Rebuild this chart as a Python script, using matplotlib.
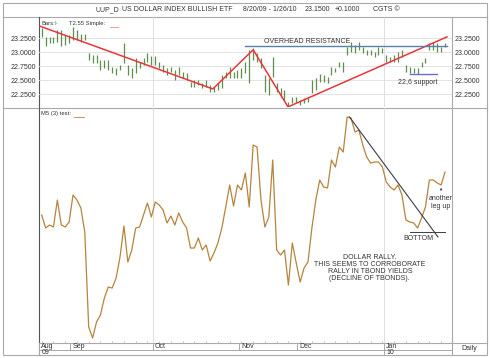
import matplotlib.pyplot as plt
from matplotlib.patches import Rectangle

plt.rcParams["font.family"] = ["Liberation Sans", "DejaVu Sans"]
plt.rcParams["font.size"] = 5

W, H = 490, 358

# ------------------------------------------------------------ data
# daily high / low of UUP, 8/20/09 - 1/26/10 (one entry per bar)
bar_hi = [23.42, 23.27, 23.27, 23.27, 23.39, 23.39, 23.30, 23.30, 23.45, 23.39,
          23.33, 23.33, 22.98, 22.95, 22.95, 22.86, 22.86, 22.86, 22.74, 22.71,
          22.77, 23.16, 22.77, 22.71, 22.89, 22.83, 22.89, 22.98, 22.92, 22.92,
          22.83, 22.77, 22.71, 22.74, 22.68, 22.74, 22.65, 22.62, 22.47, 22.50,
          22.50, 22.44, 22.50, 22.41, 22.38, 22.44, 22.59, 22.65, 22.74, 22.65,
          22.68, 22.71, 22.82, 23.04, 23.07, 22.98, 22.89, 22.59, 22.54, 22.91,
          22.45, 22.36, 22.32, 22.11, 22.20, 22.20, 22.14, 22.18, 22.20, 22.50,
          22.54, 22.61, 22.59, 22.55, 22.73, 22.71, 22.82, 22.82, 23.09, 23.18,
          23.12, 23.18, 23.09, 23.04, 23.04, 23.00, 23.09, 23.07, 22.95, 22.91,
          22.95, 23.00, 23.04, 22.77, 22.73, 22.71, 22.71, 22.82, 22.89, 23.16,
          23.18, 23.16, 23.09, 23.16]
bar_lo = [23.27, 23.11, 23.16, 23.16, 23.18, 23.11, 23.13, 23.16, 23.21, 23.21,
          23.18, 23.21, 22.86, 22.80, 22.80, 22.68, 22.71, 22.68, 22.62, 22.59,
          22.68, 22.80, 22.59, 22.53, 22.63, 22.71, 22.77, 22.83, 22.77, 22.77,
          22.71, 22.65, 22.59, 22.65, 22.50, 22.59, 22.53, 22.50, 22.38, 22.38,
          22.41, 22.35, 22.38, 22.29, 22.29, 22.32, 22.35, 22.53, 22.53, 22.53,
          22.53, 22.53, 22.62, 22.45, 22.85, 22.82, 22.71, 22.29, 22.23, 22.55,
          22.29, 22.20, 22.14, 22.02, 22.09, 22.11, 22.05, 22.09, 22.11, 22.27,
          22.32, 22.46, 22.46, 22.45, 22.59, 22.64, 22.73, 22.64, 22.95, 23.00,
          22.98, 23.04, 22.98, 22.95, 22.95, 22.91, 22.95, 22.98, 22.82, 22.82,
          22.82, 22.82, 22.91, 22.64, 22.62, 22.62, 22.61, 22.73, 22.80, 23.04,
          23.04, 23.00, 23.00, 23.09]

# M5 (3) test indicator (arbitrary units)
osc = [128, 115, 118, 116, 143, 118, 116, 121, 148, 143,
       135, 111, 16, 5, 21, 28, 45, 56, 55, 65,
       86, 117, 81, 93, 115, 116, 128, 140, 126, 141,
       138, 133, 120, 127, 118, 130, 121, 115, 95, 95,
       105, 93, 98, 82, 90, 100, 115, 136, 158, 137,
       158, 153, 170, 136, 198, 196, 143, 116, 126, 183,
       93, 88, 93, 58, 100, 80, 61, 75, 81, 115,
       143, 163, 156, 155, 183, 176, 196, 191, 226, 225,
       211, 213, 198, 186, 180, 181, 181, 176, 161, 156,
       153, 158, 148, 123, 121, 120, 115, 125, 136, 163,
       163, 160, 158, 171]

# hand-drawn lines
trend_x = [-0.4, 43.7, 54.0, 62.9, 103.5]
trend_y = [23.46, 22.34, 23.04, 22.02, 23.27]
resist_x = [52.0, 103.5]
resist_y = [23.107, 23.107]
support_x = [94.1, 100.9]
support_y = [22.6, 22.6]
down_x = [78.6, 101.2]
down_v = [226, 106]
bottom_x = [94.0, 103.0]
bottom_v = [111, 111]

months = ["Aug", "Sep", "Oct", "Nov", "Dec", "Jan"]
month_pos = [-0.69, 7.2, 28.3, 50.4, 65.2, 87.4]
price_ticks = [22.25, 22.50, 22.75, 23.00, 23.25]

# ------------------------------------------------------------ figure
fig = plt.figure(figsize=(W / 100, H / 100), dpi=100)


def frac(x0, y0, x1, y1):
    return [x0 / W, 1 - y1 / H, (x1 - x0) / W, (y1 - y0) / H]


bg = fig.add_axes([0, 0, 1, 1], zorder=0)
bg.set_xlim(0, W)
bg.set_ylim(H, 0)
bg.axis("off")

GRID = "#a9a9a9"
bg.add_patch(Rectangle((3, 3), 484, 352, fill=False, ec=GRID, lw=0.8))
bg.plot([3, 487], [16.5, 16.5], color=GRID, lw=0.8)
bg.plot([3, 487], [107.5, 107.5], color=GRID, lw=0.8)
bg.plot([452, 452], [16.5, 355], color=GRID, lw=0.8)
bg.plot([39, 39], [16.5, 355], color="#555555", lw=0.8)
bg.plot([39, 487], [343, 343], color=GRID, lw=0.8)
bg.plot([39, 452], [350, 350], color=GRID, lw=0.7)

# title bar
tcol = "#333333"
bg.text(95, 9.5, "UUP_D", color=tcol, va="center")
bg.text(122, 9.5, "US DOLLAR INDEX BULLISH ETF", color=tcol, va="center")
bg.text(243, 9.5, "8/20/09 - 1/26/10", color=tcol, va="center")
bg.text(305, 9.5, "23.1500", color=tcol, va="center")
bg.text(335, 9.5, "+0.1000", color=tcol, va="center")
bg.text(373, 9.5, "CGTS \u00a9", color=tcol, va="center")
bg.text(469, 348.5, "Daily", color=tcol, va="center", ha="center")

xlim = (-0.69, 104.78)

# ------------------------------------------------------------ price panel
ax1 = fig.add_axes(frac(39, 17, 452, 107), zorder=2)
ax1.set_facecolor("none")
ax1.set_xlim(*xlim)
ax1.set_ylim(22.018, 23.625)
ax1.set_yticks(price_ticks)
ax1.set_yticklabels(["%.4f" % t for t in price_ticks])
ax1.tick_params(axis="y", length=0, labelleft=True, labelright=True,
                pad=2.2, labelcolor=tcol, labelsize=5)
ax1.set_xticks([])
ax1.grid(axis="y", color="#dedede", lw=0.6)
for s in ax1.spines.values():
    s.set_visible(False)
for i in (2, 5):
    ax1.axvline(month_pos[i], color="#dadada", lw=0.6, zorder=0)

ax1.vlines(range(len(bar_hi)), bar_lo, bar_hi, color="#5f8f4c", lw=0.9,
           zorder=2)
ax1.plot(trend_x, trend_y, color="#e8363c", lw=1.1, zorder=3)
ax1.plot(resist_x, resist_y, color="#5a80a8", lw=1.0, zorder=3)
ax1.plot(support_x, support_y, color="#6a6ae0", lw=1.0, zorder=3)

ax1.text(67.7, 23.196, "OVERHEAD RESISTANCE", ha="center", va="center",
         color=tcol)
ax1.text(96.1, 22.46, "22,6 support", ha="center", va="center", color=tcol)

LEG = 4.2
ax1.text(0.005, 0.93, "Bars:", transform=ax1.transAxes, va="center",
         color=tcol, fontsize=LEG)
ax1.text(0.038, 0.93, "I-", transform=ax1.transAxes, va="center",
         color="#5f8f4c", fontsize=LEG)
ax1.text(0.072, 0.93, "T2.55 Simple:", transform=ax1.transAxes,
         va="center", color=tcol, fontsize=LEG)
ax1.plot([0.172, 0.192], [0.885, 0.885], transform=ax1.transAxes,
         color="#f08a8a", lw=0.6)

# ------------------------------------------------------------ indicator panel
ax2 = fig.add_axes(frac(39, 108, 452, 343), zorder=2)
ax2.set_facecolor("none")
ax2.set_xlim(*xlim)
ax2.set_ylim(0, 235)
ax2.set_yticks([])
ax2.set_xticks(range(0, len(osc), 3), minor=True)
ax2.set_xticks([])
ax2.tick_params(axis="x", which="minor", length=1.5, color="#bbbbbb",
                direction="in")
for s in ax2.spines.values():
    s.set_visible(False)
for i in (2, 5):
    ax2.axvline(month_pos[i], color="#dadada", lw=0.6, zorder=0)

ax2.plot(range(len(osc)), osc, color="#b5843d", lw=0.9, zorder=3)
ax2.plot(down_x, down_v, color="#3c3c46", lw=0.8, zorder=3)
ax2.plot(bottom_x, bottom_v, color="#3c3c46", lw=0.7, zorder=3)

ax2.text(0.005, 0.975, "M5 (3) test:", transform=ax2.transAxes,
         va="center", color=tcol, fontsize=LEG)
ax2.plot([0.085, 0.108], [0.962, 0.962], transform=ax2.transAxes,
         color="#b5843d", lw=0.6)

ax2.text(96.1, 105, "BOTTOM", ha="center", va="center", color=tcol)
ax2.annotate("", xy=(102.0, 158), xytext=(102.0, 150),
             arrowprops=dict(arrowstyle="->", lw=0.5, color=tcol,
                             mutation_scale=3))
ax2.text(102.0, 144, "another", ha="center", va="center", color=tcol)
ax2.text(102.0, 137, "leg up", ha="center", va="center", color=tcol)
ax2.text(83.8, 75, "DOLLAR RALLY.\nTHIS SEEMS TO CORROBORATE\n"
         "RALLY IN TBOND YIELDS\n(DECLINE OF TBONDS).",
         ha="center", va="center", color=tcol, linespacing=1.05)

# month labels in boxes below the indicator panel
xt = ax2.get_xaxis_transform()
for pos, lab in zip(month_pos, months):
    ax2.plot([pos, pos], [0, -0.03], transform=xt, color=GRID, lw=0.7,
             clip_on=False)
    ax2.text(pos + 0.6, -0.015, lab, transform=xt, va="center",
             color=tcol, clip_on=False)
for pos, lab in ((month_pos[0], "09"), (month_pos[5], "10")):
    ax2.plot([pos, pos], [-0.03, -0.051], transform=xt, color=GRID, lw=0.7,
             clip_on=False)
    ax2.text(pos + 0.6, -0.041, lab, transform=xt, va="center",
             color=tcol, clip_on=False)

fig.savefig("out.png", dpi=100)
